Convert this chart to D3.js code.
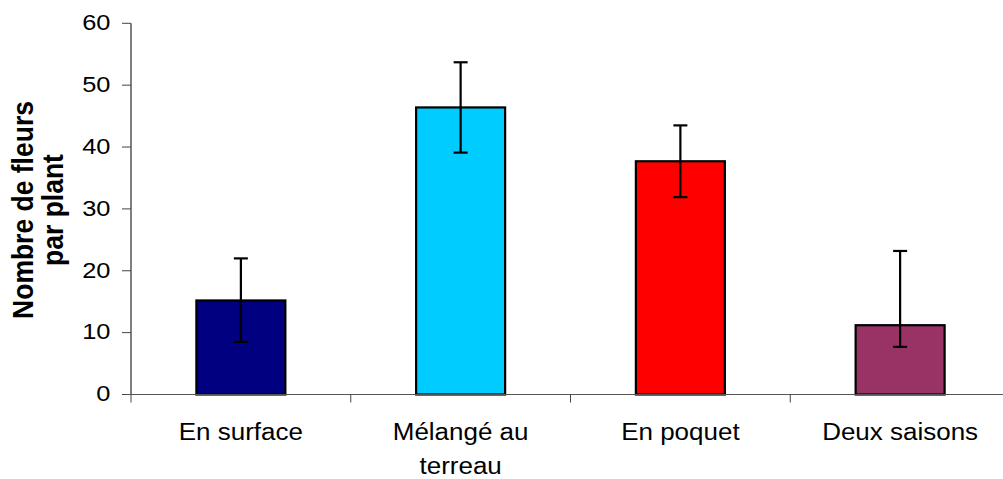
<!DOCTYPE html>
<html><head><meta charset="utf-8">
<script src="https://cdn.jsdelivr.net/npm/d3@7"></script>
<style>html,body{margin:0;padding:0;background:#fff;}svg{display:block;}</style>
</head><body>
<svg id="c" width="1003" height="479"></svg>
<script>
const categories = ["En surface", "Mélangé au terreau", "En poquet", "Deux saisons"];
const categoryLines = [["En surface"], ["Mélangé au", "terreau"], ["En poquet"], ["Deux saisons"]];
const values = [15.2, 46.4, 37.7, 11.2];
const errHigh = [22.0, 53.7, 43.5, 23.2];
const errLow = [8.5, 39.1, 31.9, 7.7];
const colors = ["#000080", "#00CCFF", "#FF0000", "#993366"];
const yTicks = [0, 10, 20, 30, 40, 50, 60];
const yTitle = ["Nombre de fleurs", "par plant"];

const svg = d3.select("#c");
const font = "'Liberation Sans', Arial, sans-serif";
const x0 = 131, x1 = 1010, yB = 394.5, yT = 23.3;

const y = d3.scaleLinear().domain([0, 60]).range([yB, yT]);
const xCat = d3.scaleBand().domain(categories).range([x0, x1]).padding(0);
const xBar = d3.scaleBand().domain(categories).range([x0, x1]).paddingInner(0.595).paddingOuter(0.2975);

// bars
svg.selectAll("rect.bar").data(categories).join("rect")
  .attr("x", d => xBar(d)).attr("width", xBar.bandwidth())
  .attr("y", (d, i) => y(values[i])).attr("height", (d, i) => y(0) - y(values[i]))
  .attr("fill", (d, i) => colors[i]).attr("stroke", "#000").attr("stroke-width", 2.2);

// error bars
const eb = svg.append("g").attr("stroke", "#000").attr("stroke-width", 2.2);
categories.forEach((c, i) => {
  const cx = xBar(c) + xBar.bandwidth() / 2;
  eb.append("line").attr("x1", cx).attr("x2", cx).attr("y1", y(errLow[i])).attr("y2", y(errHigh[i]));
  [errLow[i], errHigh[i]].forEach(v => {
    eb.append("line").attr("x1", cx - 7).attr("x2", cx + 7).attr("y1", y(v)).attr("y2", y(v));
  });
});

// y axis
const ya = svg.append("g");
ya.append("line").attr("x1", x0).attr("x2", x0).attr("y1", yT).attr("y2", yB).attr("stroke", "#000").attr("stroke-width", 1);
yTicks.forEach(t => {
  ya.append("line").attr("x1", x0 - 9).attr("x2", x0).attr("y1", y(t)).attr("y2", y(t)).attr("stroke", "#444").attr("stroke-width", 1);
  ya.append("text").attr("transform", `translate(110.5,${y(t) + 6.8}) scale(1.13,1)`)
    .attr("text-anchor", "end").attr("font-family", font).attr("font-size", 22.5).attr("fill", "#000").text(t);
});

// x axis
const xa = svg.append("g");
xa.append("line").attr("x1", x0 - 4).attr("x2", 1003).attr("y1", yB).attr("y2", yB).attr("stroke", "#555").attr("stroke-width", 1.2);
categories.forEach(c => {
  const tx = xCat(c);
  xa.append("line").attr("x1", tx).attr("x2", tx).attr("y1", yB).attr("y2", yB + 8).attr("stroke", "#444").attr("stroke-width", 1);
});
categories.forEach((c, i) => {
  const cx = xBar(c) + xBar.bandwidth() / 2;
  categoryLines[i].forEach((ln, j) => {
    xa.append("text").attr("transform", `translate(${cx},${439.5 + j * 34}) scale(1.13,1)`)
      .attr("text-anchor", "middle").attr("font-family", font).attr("font-size", 23).attr("fill", "#000").text(ln);
  });
});

// y title
yTitle.forEach((ln, j) => {
  svg.append("text").attr("transform", `translate(${33 + j * 30},210) rotate(-90) scale(1,1.1)`)
    .attr("text-anchor", "middle").attr("font-family", font).attr("font-weight", "bold")
    .attr("font-size", 26.5).attr("fill", "#000").text(ln);
});
</script>
</body></html>
